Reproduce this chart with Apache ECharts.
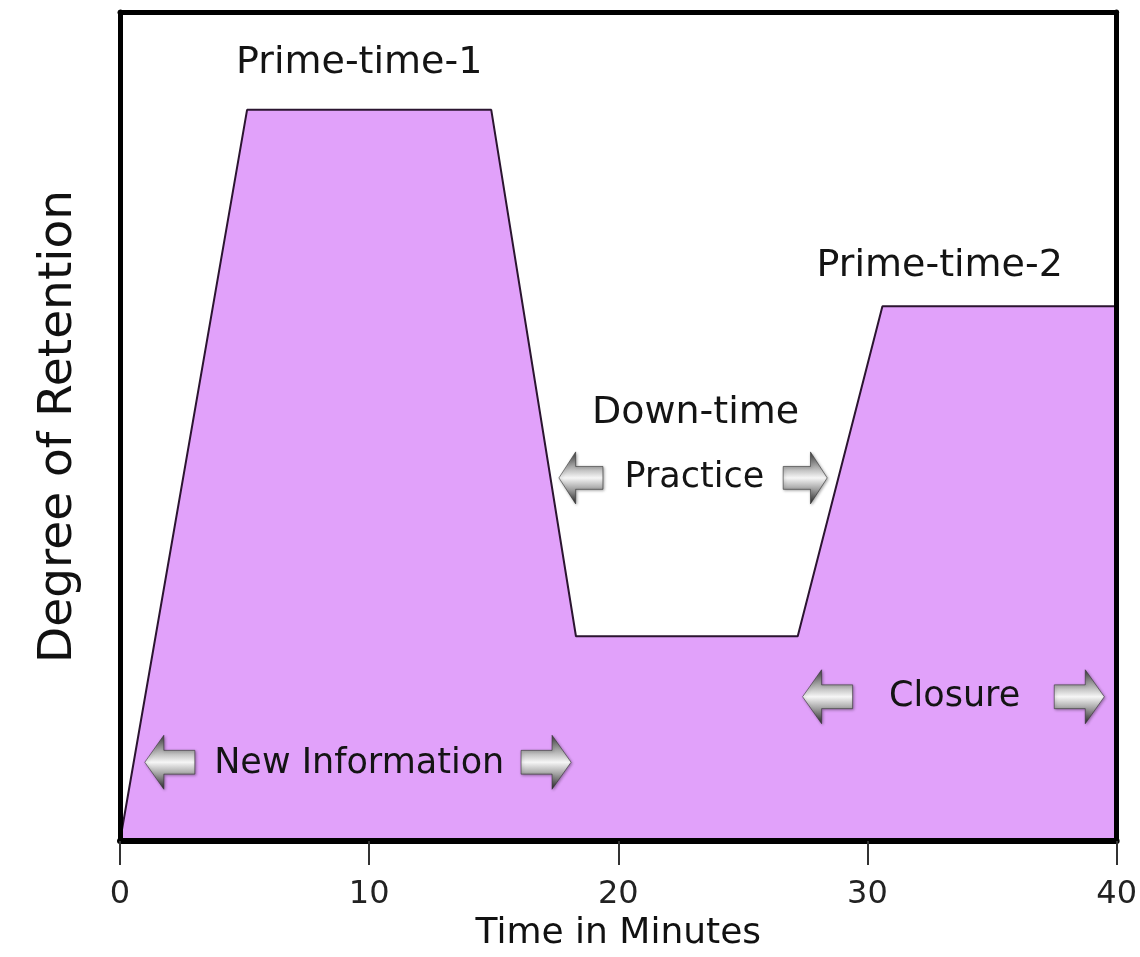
<!DOCTYPE html>
<html>
<head>
<meta charset="utf-8">
<script src="https://cdn.jsdelivr.net/npm/echarts@6/dist/echarts.min.js"></script>
<style>
html,body{margin:0;padding:0;background:#fff;}
#chart{width:1140px;height:957px;}
</style>
</head>
<body>
<div id="chart"></div>
<script>
// ---- data ----
const timeMinutes = [0, 5.1, 14.9, 18.3, 27.2, 30.6, 40];
const retention   = [0, 88.2, 88.2, 24.7, 24.7, 64.5, 64.5];
const xTickValues = [0, 10, 20, 30, 40];

const noteText = ['Prime-time-1', 'Prime-time-2', 'Down-time', 'Practice', 'New Information', 'Closure'];
const noteX    = [9.6, 32.9, 23.1, 23.05, 9.6, 33.5];
const noteY    = [93.8, 69.4, 51.6, 43.8, 9.3, 17.4];

const arrowX   = [2.0, 17.1, 18.5, 27.5, 28.4, 38.5];
const arrowY   = [9.5, 9.5, 43.8, 43.8, 17.4, 17.4];
const arrowDir = ['left', 'right', 'left', 'right', 'left', 'right'];

// ---- chart ----
const FONT = 'DejaVu Sans';
const leftArrow  = 'path://M0,50 L38,0 L38,28 L100,28 L100,72 L38,72 L38,100 Z';
const rightArrow = 'path://M100,50 L62,0 L62,28 L0,28 L0,72 L62,72 L62,100 Z';
const metal = {
  type: 'linear', x: 0, y: 0, x2: 0, y2: 1,
  colorStops: [
    {offset: 0, color: '#3e3e3e'},
    {offset: 0.28, color: '#a8a8a8'},
    {offset: 0.5, color: '#f6f6f6'},
    {offset: 0.72, color: '#a0a0a0'},
    {offset: 1, color: '#262626'}
  ]
};

const chart = echarts.init(document.getElementById('chart'));
const frameAxis = (w) => ({show: true, onZero: false, lineStyle: {color: '#000', width: w}});

chart.setOption({
  backgroundColor: '#fff',
  animation: false,
  grid: {left: 120, right: 21, top: 12, bottom: 116, containLabel: false},
  xAxis: [{
    type: 'value', min: 0, max: 40, interval: 10, position: 'bottom', z: 10,
    axisLine: frameAxis(6),
    axisTick: {show: true, length: 24, lineStyle: {color: '#333', width: 2}},
    axisLabel: {fontFamily: FONT, fontSize: 32, color: '#222', margin: 38,
      formatter: v => xTickValues.includes(v) ? String(v) : ''},
    splitLine: {show: false},
    name: 'Time in Minutes', nameLocation: 'middle', nameGap: 72,
    nameTextStyle: {fontFamily: FONT, fontSize: 36, color: '#111'}
  }, {
    type: 'value', min: 0, max: 40, position: 'top', z: 10,
    axisLine: frameAxis(5), axisTick: {show: false}, axisLabel: {show: false}, splitLine: {show: false}
  }],
  yAxis: [{
    type: 'value', min: 0, max: 100, position: 'left', z: 10,
    axisLine: frameAxis(5), axisTick: {show: false}, axisLabel: {show: false}, splitLine: {show: false},
    name: 'Degree of Retention', nameLocation: 'middle', nameRotate: 90, nameGap: 38,
    nameTextStyle: {fontFamily: FONT, fontSize: 47, color: '#111'}
  }, {
    type: 'value', min: 0, max: 100, position: 'right', z: 10,
    axisLine: frameAxis(5), axisTick: {show: false}, axisLabel: {show: false}, splitLine: {show: false}
  }],
  series: [{
    type: 'line', z: 2,
    data: timeMinutes.map((t, i) => [t, retention[i]]),
    symbol: 'none', smooth: false,
    lineStyle: {color: '#2b1530', width: 2},
    areaStyle: {color: '#e1a1fa', opacity: 1}
  }, {
    type: 'scatter', z: 20,
    data: noteText.map((t, i) => ({
      name: t, value: [noteX[i], noteY[i]],
      label: {fontSize: t.indexOf('-') >= 0 ? 38 : 35}
    })),
    symbol: 'circle', symbolSize: 1,
    itemStyle: {color: 'rgba(0,0,0,0)', opacity: 1},
    label: {show: true, position: 'inside', formatter: '{b}',
      fontFamily: FONT, fontSize: 35, color: '#141414', opacity: 1}
  }, {
    type: 'scatter', z: 20,
    data: arrowX.map((x, i) => ({
      value: [x, arrowY[i]],
      symbol: arrowDir[i] === 'left' ? leftArrow : rightArrow,
      symbolSize: (i === 2 || i === 3) ? [44, 52] : [50, 54]
    })),
    itemStyle: {color: metal, opacity: 1, borderColor: '#333', borderWidth: 0.6,
      shadowColor: 'rgba(0,0,0,0.35)', shadowBlur: 3, shadowOffsetX: 1, shadowOffsetY: 1}
  }]
});
</script>
</body>
</html>
